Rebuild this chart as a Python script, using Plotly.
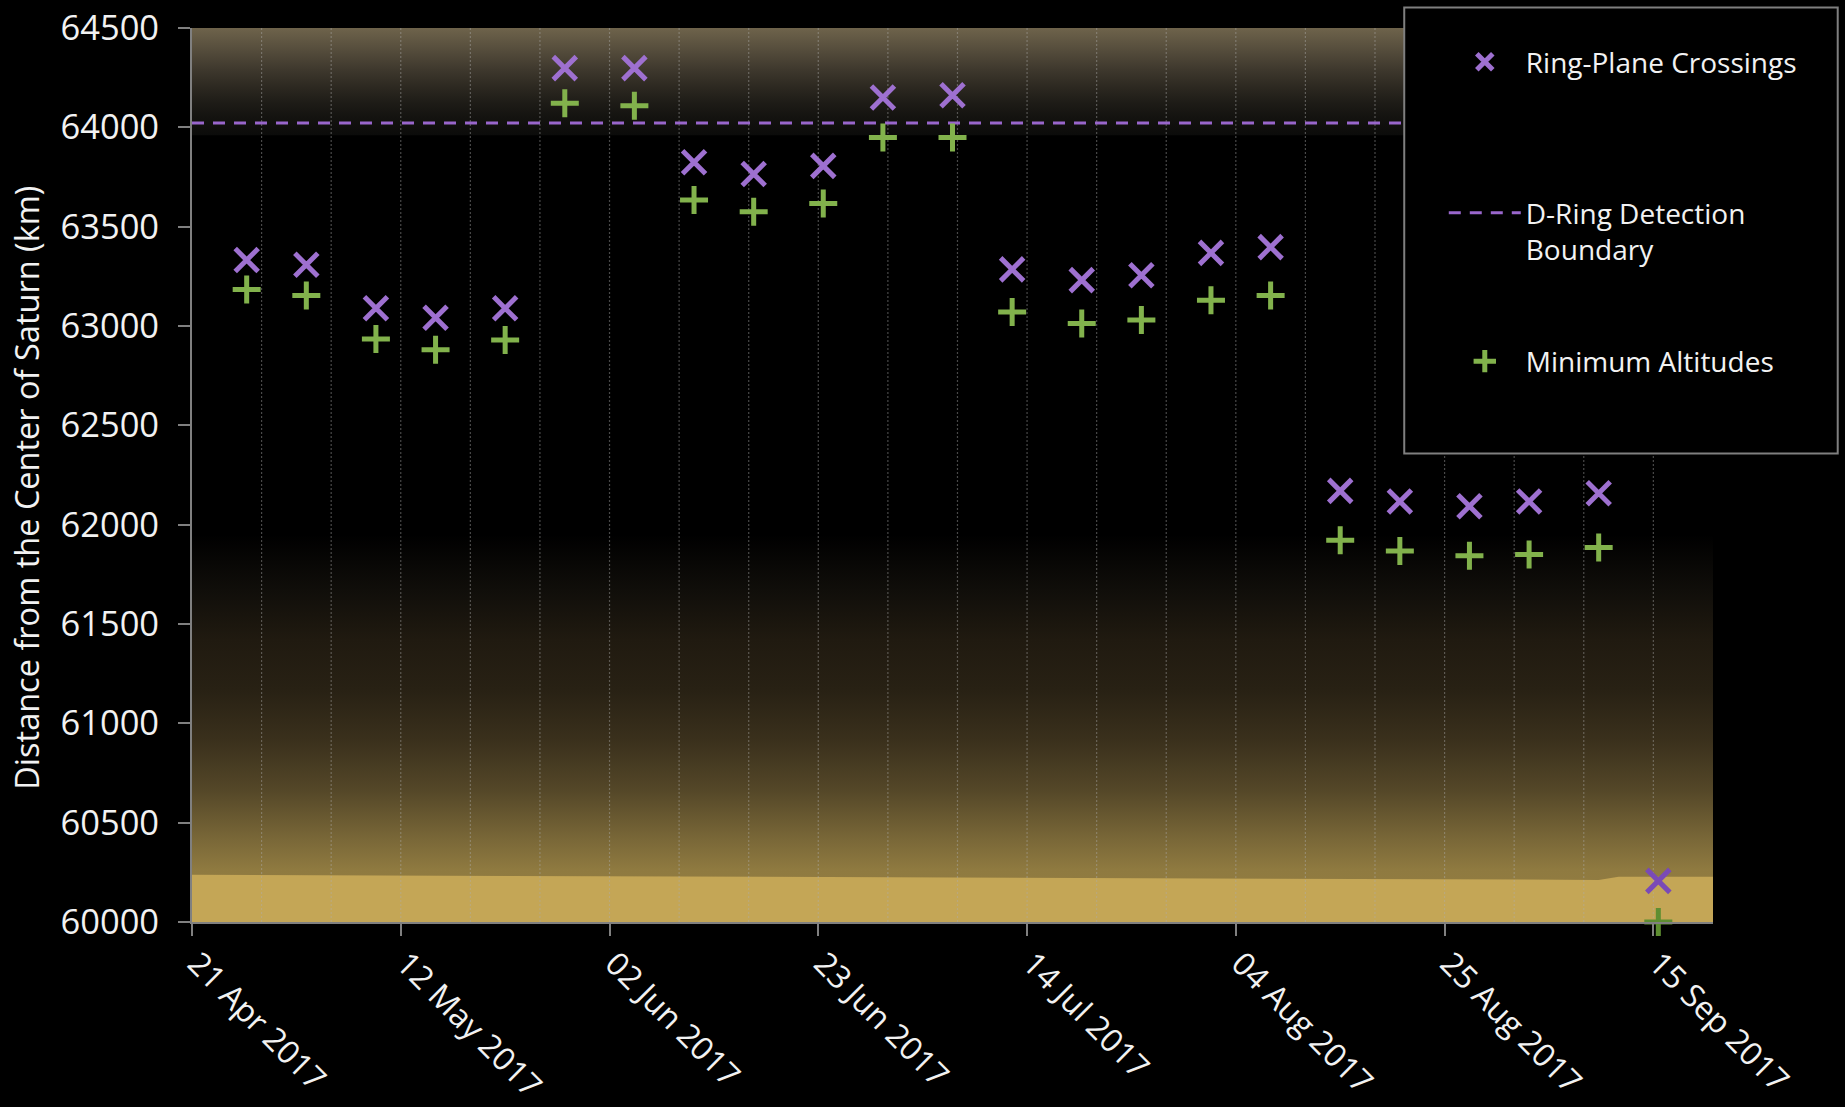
import plotly.graph_objects as go
import pandas as pd

# ---------------- data ----------------
pass_dates = ["2017-04-26", "2017-05-02", "2017-05-09", "2017-05-15", "2017-05-22",
              "2017-05-28", "2017-06-04", "2017-06-10", "2017-06-16", "2017-06-23",
              "2017-06-29", "2017-07-06", "2017-07-12", "2017-07-19", "2017-07-25",
              "2017-08-01", "2017-08-07", "2017-08-14", "2017-08-20", "2017-08-27",
              "2017-09-02", "2017-09-09", "2017-09-15"]
ring_plane_crossings = [63332, 63308, 63089, 63041, 63089, 64298, 64298, 63824, 63765, 63806,
                        64150, 64162, 63285, 63231, 63255, 63368, 63397, 62170, 62117, 62093,
                        62117, 62158, 60207]
minimum_altitudes = [63184, 63154, 62935, 62881, 62929, 64121, 64109, 63634, 63575, 63617,
                     63949, 63949, 63071, 63012, 63030, 63130, 63154, 61921, 61868, 61844,
                     61850, 61885, 60000]
d_ring_boundary = 64022

axis_start, axis_end = "2017-04-21", "2017-09-21"
y_min, y_max = 60000, 64500

# Saturn "surface" band (top edge through time)
band_dates = ["2017-04-21", "2017-09-09 12:00", "2017-09-11 12:00", "2017-09-21"]
band_top = [60238, 60212, 60228, 60228]

# decorative glow regions (km) and their colour ramps (value, rgb)
upper_glow = [63960, 64500]
upper_ramp = [(63960, (11, 11, 10)), (64054, (20, 19, 16)), (64125, (30, 28, 23)),
              (64205, (45, 41, 33)), (64290, (62, 56, 45)), (64376, (82, 74, 58)),
              (64500, (110, 99, 75))]
lower_glow = [60000, 61950]
lower_ramp = [(60000, (150, 128, 67)), (60263, (143, 122, 64)), (60413, (122, 104, 56)),
              (60665, (84, 71, 40)), (60917, (58, 48, 28)), (61169, (40, 33, 20)),
              (61420, (32, 26, 16)), (61672, (16, 14, 10)), (61950, (0, 0, 0))]

# ---------------- figure ----------------
DAY = 86400000
xs = pd.to_datetime(pass_dates) + pd.Timedelta(hours=12)

purple = "#9E70D0"
purple_dark = "#7A4AB6"
green = "#82B24C"
green_dark = "#5E8E31"
font_family = "Open Sans"
text_color = "#F2F2F2"


def ramp_to_scale(ramp, lo, hi):
    return [[(v - lo) / (hi - lo), "rgb(%d,%d,%d)" % c] for v, c in ramp]


def box(lo, hi):
    return ([axis_start, axis_end, axis_end, axis_start, axis_start], [lo, lo, hi, hi, lo])


fig = go.Figure()

# upper glow
bx, by = box(*upper_glow)
fig.add_trace(go.Scatter(
    x=bx, y=by, mode="none", fill="toself",
    fillgradient=dict(type="vertical", start=upper_glow[0], stop=upper_glow[1],
                      colorscale=ramp_to_scale(upper_ramp, *upper_glow)),
    hoverinfo="skip", showlegend=False))

# lower glow
bx, by = box(*lower_glow)
fig.add_trace(go.Scatter(
    x=bx, y=by, mode="none", fill="toself",
    fillgradient=dict(type="vertical", start=lower_glow[0], stop=lower_glow[1],
                      colorscale=ramp_to_scale(lower_ramp, *lower_glow)),
    hoverinfo="skip", showlegend=False))

# gold band
fig.add_trace(go.Scatter(x=band_dates, y=[y_min] * len(band_dates), mode="lines",
                         line=dict(width=0), hoverinfo="skip", showlegend=False))
fig.add_trace(go.Scatter(x=band_dates, y=band_top, mode="lines", fill="tonexty",
                         line=dict(width=0), fillcolor="rgb(196,166,86)",
                         hoverinfo="skip", showlegend=False))

# weekly dotted gridlines drawn over the glows
grid_x, grid_y = [], []
for d in pd.date_range(axis_start, axis_end, freq="7D")[1:]:
    grid_x += [d, d, None]
    grid_y += [y_min, y_max, None]
fig.add_trace(go.Scatter(x=grid_x, y=grid_y, mode="lines",
                         line=dict(color="rgba(175,175,175,0.42)", width=1.2, dash="2px,2px"),
                         hoverinfo="skip", showlegend=False))

# series, each in its own legend box
fig.add_trace(go.Scatter(
    x=xs, y=ring_plane_crossings, mode="markers", name="Ring-Plane Crossings",
    marker=dict(symbol="x-thin", size=23,
                line=dict(width=5, color=[purple] * (len(xs) - 1) + [purple_dark])),
    cliponaxis=False, legend="legend"))

fig.add_trace(go.Scatter(
    x=[axis_start, axis_end], y=[d_ring_boundary, d_ring_boundary], mode="lines",
    name="D-Ring Detection<br>Boundary",
    line=dict(color="#9966CC", width=3, dash="12px,9px"), legend="legend2"))

fig.add_trace(go.Scatter(
    x=xs, y=minimum_altitudes, mode="markers", name="Minimum Altitudes",
    marker=dict(symbol="cross-thin", size=20,
                line=dict(width=5, color=[green] * (len(xs) - 1) + [green_dark])),
    cliponaxis=False, legend="legend3"))

legend_common = dict(bgcolor="rgba(0,0,0,0)", borderwidth=0,
                     font=dict(family=font_family, size=28, color=text_color),
                     xanchor="left", yanchor="middle", valign="top", itemwidth=72)

fig.update_layout(
    width=1845, height=1107, autosize=False,
    paper_bgcolor="black", plot_bgcolor="black",
    margin=dict(l=192, r=132, t=28, b=185, autoexpand=False),
    font=dict(family=font_family, color=text_color),
    legend=dict(x=0.823, y=0.962, **legend_common),
    legend2=dict(x=0.823, y=0.773, **legend_common),
    legend3=dict(x=0.823, y=0.627, **legend_common),
    xaxis=dict(
        type="date", range=[axis_start, axis_end], automargin=False,
        tick0=axis_start, dtick=21 * DAY, tickformat="%d %b %Y", tickangle=45,
        tickfont=dict(size=32, color=text_color),
        ticks="outside", ticklen=12, tickcolor="#808080", tickwidth=2,
        ticklabelshift=5, ticklabelstandoff=-4,
        showline=True, linecolor="#808080", linewidth=2,
        showgrid=False, zeroline=False,
    ),
    yaxis=dict(
        range=[y_min, y_max], dtick=500, tickformat="d", automargin=False,
        tickfont=dict(size=34.5, color=text_color),
        ticks="outside", ticklen=12, tickcolor="#808080", tickwidth=2,
        ticklabelstandoff=12,
        showline=True, linecolor="#808080", linewidth=2,
        showgrid=False, zeroline=False,
    ),
    annotations=[dict(text="Distance from the Center of Saturn (km)",
                      xref="paper", yref="paper", x=-0.109, y=0.486,
                      xanchor="center", yanchor="middle", textangle=-90, showarrow=False,
                      font=dict(family=font_family, size=32.5, color=text_color))],
    shapes=[dict(type="rect", xref="paper", yref="paper",
                 x0=0.797, x1=1.082, y0=0.524, y1=1.023,
                 fillcolor="black", line=dict(color="#7F7F7F", width=2), layer="above")],
)

fig.write_html(
    "out.html",
    config={"displayModeBar": False},
    post_script="document.body.style.margin='0';document.body.style.background='black';"
                "document.body.style.overflow='hidden';",
)
